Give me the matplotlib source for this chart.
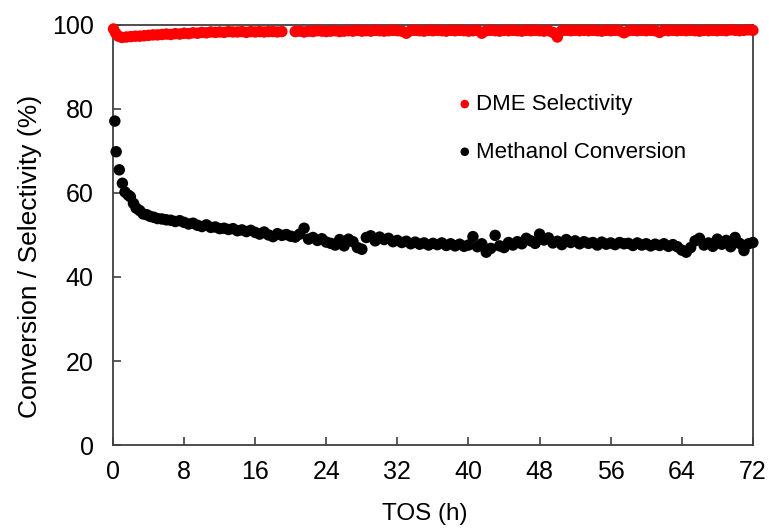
import numpy as np
import matplotlib
matplotlib.use("Agg")
from matplotlib import pyplot as plt

# methanol conversion (%), early points then every 0.5 h from 5.5 h
tos_conv_early = [0.2, 0.35, 0.7, 1.05, 1.35, 1.7, 1.95, 2.3, 2.6, 3.0, 3.4, 3.8, 4.2, 4.6, 5.0]
conv_early = [77.1, 69.8, 65.5, 62.3, 60.2, 59.5, 59.1, 57.5, 56.4, 55.8, 55.0, 54.8, 54.4, 54.2, 53.9]
conv_rest = [
    53.8, 53.6, 53.5, 53.2, 53.4, 53.0,
    52.6, 52.8, 52.3, 52.0, 52.4, 51.8, 51.9, 51.5,
    51.6, 51.3, 51.5, 51.0, 51.2, 50.8, 51.1, 50.6,
    50.2, 50.7, 50.0, 49.6, 50.3, 49.9, 50.1, 49.7,
    49.5, 50.2, 51.6, 49.0, 49.4, 48.7, 49.1, 48.3,
    48.0, 47.6, 48.9, 47.4, 49.0, 48.4, 47.0, 46.6,
    49.4, 49.8, 48.6, 49.5, 48.9, 49.2, 48.4, 48.7,
    48.2, 48.5, 47.9, 48.3, 47.8, 48.1, 47.6, 48.0,
    47.7, 48.1, 47.5, 47.9, 47.4, 47.8, 47.3, 47.6,
    49.6, 47.2, 47.9, 45.9, 46.8, 49.9, 47.4, 47.0,
    48.2, 47.6, 48.4, 47.9, 49.2, 48.6, 48.0, 50.2,
    48.8, 49.3, 48.1, 48.5, 47.7, 48.9, 48.2, 48.6,
    47.9, 48.4, 48.0, 48.2, 47.6, 48.3, 47.8, 48.1,
    47.7, 48.2, 47.9, 48.0, 47.5, 48.1, 47.6, 47.9,
    47.4, 47.8, 47.5, 47.9, 47.3, 47.7, 47.2, 46.4,
    45.9, 47.0, 48.6, 49.2, 47.6, 48.1, 47.3, 49.0,
    47.8, 48.7, 47.2, 49.4, 48.0, 46.3, 47.9, 48.2,
]
tos_conv = np.concatenate([tos_conv_early, np.arange(5.5, 72.01, 0.5)])
conv = np.array(conv_early + conv_rest)

# DME selectivity (%), gap around 19.5-20 h
tos_sel_early = [0.05, 0.3, 0.6, 1.0, 1.5, 2.0, 2.5, 3.0, 3.5, 4.0, 4.5, 5.0]
sel_early = [99.0, 98.0, 97.3, 97.0, 97.1, 97.2, 97.3, 97.3, 97.4, 97.5, 97.6, 97.6]
sel_mid = [97.7, 97.8, 97.7, 97.9, 97.8, 98.0, 97.9, 98.1, 98.0, 98.2, 98.1, 98.3, 98.2, 98.3,
           98.2, 98.4, 98.3, 98.3, 98.4, 98.2, 98.4, 98.3, 98.4, 98.3, 98.4, 98.4, 98.3, 98.4]
sel_late = [
    98.4, 98.5, 98.3, 98.5, 98.4, 98.6, 98.5, 98.4,
    98.5, 98.6, 98.4, 98.5, 98.6, 98.5, 98.7, 98.5,
    98.6, 98.5, 98.7, 98.6, 98.5, 98.6, 98.7, 98.6,
    98.5, 98.0, 98.6, 98.7, 98.6, 98.5, 98.7, 98.6,
    98.7, 98.6, 98.5, 98.7, 98.6, 98.7, 98.6, 98.5,
    98.6, 98.7, 98.0, 98.6, 98.7, 98.6, 98.5, 98.7,
    98.6, 98.7, 98.6, 98.5, 98.7, 98.6, 98.7, 98.6,
    98.5, 98.6, 98.2, 97.1, 98.6, 98.7, 98.6, 98.7,
    98.6, 98.7, 98.6, 98.7, 98.6, 98.5, 98.7, 98.6,
    98.7, 98.6, 98.1, 98.6, 98.7, 98.6, 98.7, 98.6,
    98.7, 98.6, 98.2, 98.7, 98.6, 98.7, 98.6, 98.7,
    98.6, 98.7, 98.6, 98.5, 98.7, 98.6, 98.7, 98.6,
    98.7, 98.6, 98.8, 98.7, 98.6, 98.7, 98.8, 98.7,
]
tos_sel = np.concatenate([tos_sel_early, np.arange(5.5, 19.01, 0.5), np.arange(20.5, 72.01, 0.5)])
sel = np.array(sel_early + sel_mid + sel_late)

x_ticks = [0, 8, 16, 24, 32, 40, 48, 56, 64, 72]
y_ticks = [0, 20, 40, 60, 80, 100]

plt.rcParams['font.family'] = ['Liberation Sans', 'DejaVu Sans']

fig = plt.figure(figsize=(7.69, 5.28), dpi=100)
ax = fig.add_axes([0.147, 0.157, 0.832, 0.796])

ax.scatter(tos_sel, sel, s=68, color='#ff0000', edgecolors='none', clip_on=False,
           zorder=3, label='DME Selectivity')
ax.scatter(tos_conv, conv, s=68, color='black', edgecolors='none', clip_on=False,
           zorder=3, label='Methanol Conversion')

ax.set_xlim(0, 72)
ax.set_ylim(0, 100)
ax.set_xticks(x_ticks)
ax.set_yticks(y_ticks)
ax.tick_params(direction='in', length=6, width=1.2, labelsize=18, color='#404040')
ax.tick_params(axis='x', pad=11)
ax.tick_params(axis='y', pad=14)
for sp in ax.spines.values():
    sp.set_linewidth(1.3)
    sp.set_color('#404040')

ax.set_xlabel('TOS (h)', fontsize=17.5)
ax.xaxis.set_label_coords(0.4875, -0.138)
ax.set_ylabel('Conversion / Selectivity (%)', fontsize=19)
ax.yaxis.set_label_coords(-0.111, 0.448)

ax.legend(loc='upper left', bbox_to_anchor=(0.515, 0.862), frameon=False, fontsize=16,
          markerscale=0.75, handletextpad=0.0, labelspacing=1.2, borderpad=0,
          handlelength=1.0)

fig.savefig('out.png', dpi=100)
